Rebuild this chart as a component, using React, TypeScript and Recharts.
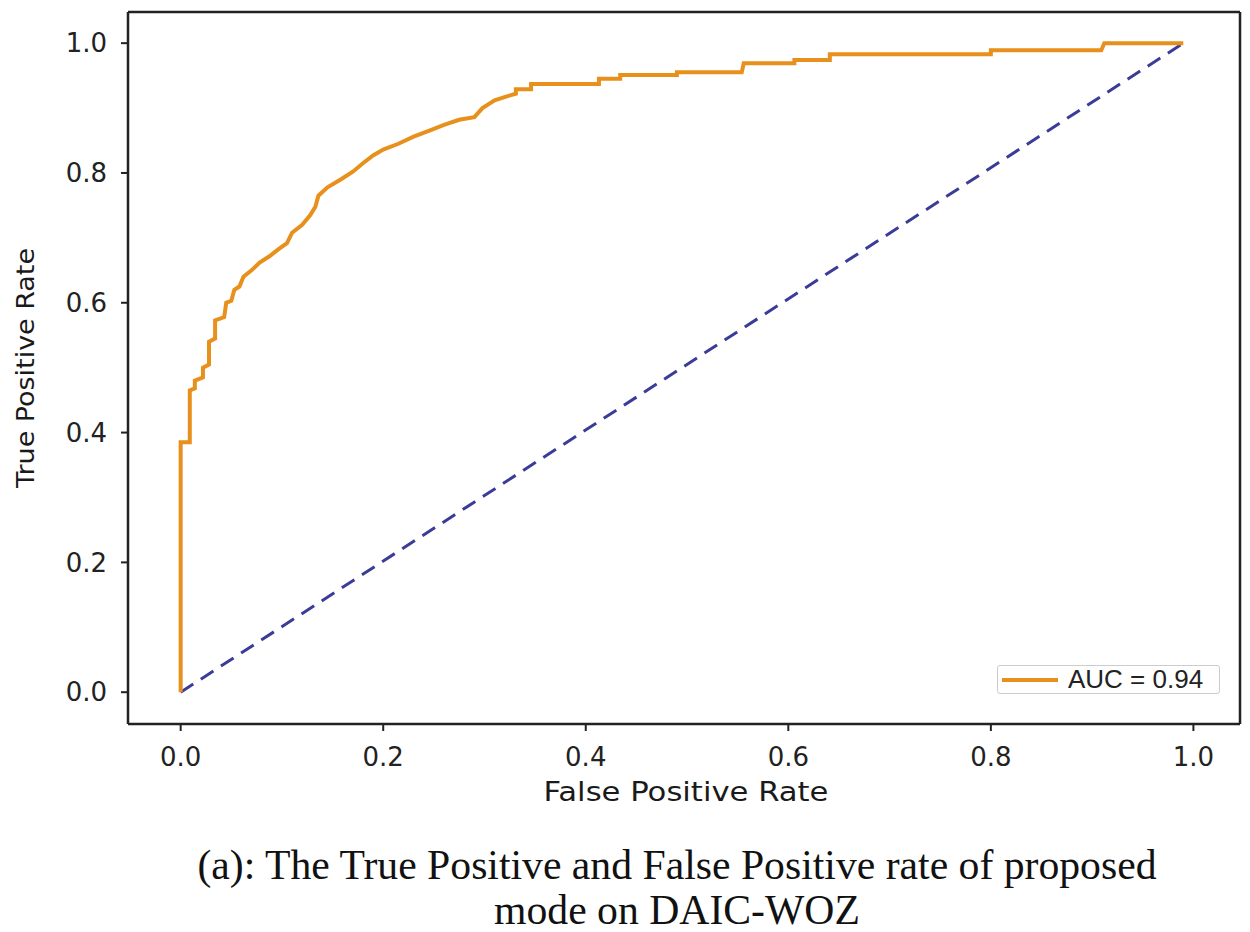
import { LineChart, Line, XAxis, YAxis, ReferenceLine } from 'recharts';

// ROC curve vertices (false positive rate, true positive rate)
const fpr = [
  0, 0, 0.009, 0.009, 0.014, 0.014, 0.022, 0.022, 0.028, 0.028, 0.034, 0.034, 0.043, 0.045,
  0.05, 0.053, 0.058, 0.062, 0.07, 0.078, 0.088, 0.097, 0.105, 0.11, 0.12, 0.128, 0.133, 0.136,
  0.145, 0.158, 0.17, 0.18, 0.19, 0.2, 0.215, 0.23, 0.245, 0.26, 0.275, 0.29, 0.298, 0.31, 0.322,
  0.331, 0.331, 0.346, 0.346, 0.413, 0.413, 0.434, 0.434, 0.49, 0.49, 0.554, 0.556, 0.606, 0.606,
  0.641, 0.641, 0.8, 0.8, 0.909, 0.912, 0.99,
];
const tpr = [
  0, 0.385, 0.385, 0.465, 0.468, 0.48, 0.485, 0.5, 0.505, 0.54, 0.545, 0.573, 0.578, 0.6,
  0.603, 0.62, 0.625, 0.64, 0.65, 0.662, 0.672, 0.683, 0.692, 0.708, 0.72, 0.735, 0.748, 0.765,
  0.778, 0.79, 0.802, 0.815, 0.827, 0.836, 0.845, 0.856, 0.865, 0.874, 0.882, 0.886, 0.9, 0.912, 0.918,
  0.922, 0.929, 0.929, 0.937, 0.937, 0.945, 0.945, 0.951, 0.951, 0.955, 0.955, 0.969, 0.969, 0.974,
  0.974, 0.983, 0.983, 0.989, 0.989, 1.0, 1.0,
];
const chanceX = [0, 0.99];
const chanceY = [0, 1.0];
const ticks = [0, 0.2, 0.4, 0.6, 0.8, 1.0];
const aucLabel = 'AUC = 0.94';

const rocData = fpr.map((x, i) => ({ x, y: tpr[i] }));
const chanceData = chanceX.map((x, i) => ({ x, y: chanceY[i] }));

const xDomain = [-0.052, 1.046];
const yDomain = [-0.049, 1.048];
const frame = '#222';
const tickFont = { fontFamily: 'DejaVu Sans', fontSize: 26, fill: '#222' };

function XLabel({ viewBox }: any) {
  return (
    <text
      x={viewBox.x + viewBox.width / 2 + 2}
      y={viewBox.y + 77}
      textAnchor="middle"
      textLength={285}
      lengthAdjust="spacingAndGlyphs"
      style={{ fontFamily: 'DejaVu Sans', fontSize: 26, fill: '#1a1a1a' }}
    >
      False Positive Rate
    </text>
  );
}

function YLabel({ viewBox }: any) {
  const cx = 17;
  const cy = viewBox.y + viewBox.height / 2;
  return (
    <text
      x={cx}
      y={cy}
      transform={`rotate(-90, ${cx}, ${cy})`}
      textAnchor="middle"
      dominantBaseline="central"
      textLength={240}
      lengthAdjust="spacingAndGlyphs"
      style={{ fontFamily: 'DejaVu Sans', fontSize: 25, fill: '#1a1a1a' }}
    >
      True Positive Rate
    </text>
  );
}

export default function App() {
  return (
    <div style={{ width: 1242 }}>
      <div style={{ position: 'relative', width: 1242, height: 804 }}>
        <LineChart width={1242} height={804} margin={{ top: 4, right: 10, left: 0, bottom: 0 }}>
          <XAxis
            dataKey="x"
            type="number"
            domain={xDomain}
            ticks={ticks}
            tickFormatter={(v: number) => v.toFixed(1)}
            allowDataOverflow
            height={88}
            tickSize={7}
            tickMargin={17}
            tick={tickFont}
            axisLine={{ stroke: frame, strokeWidth: 2.5 }}
            tickLine={{ stroke: frame, strokeWidth: 2 }}
            label={<XLabel />}
          />
          <YAxis
            dataKey="y"
            type="number"
            domain={yDomain}
            ticks={ticks}
            tickFormatter={(v: number) => v.toFixed(1)}
            allowDataOverflow
            width={120}
            tickSize={7}
            tickMargin={14}
            tick={tickFont}
            axisLine={{ stroke: frame, strokeWidth: 2.5 }}
            tickLine={{ stroke: frame, strokeWidth: 2 }}
            label={<YLabel />}
          />
          <ReferenceLine y={yDomain[1]} stroke={frame} strokeWidth={2.5} ifOverflow="visible" />
          <ReferenceLine x={xDomain[1]} stroke={frame} strokeWidth={2.5} ifOverflow="visible" />
          <Line
            data={chanceData}
            dataKey="y"
            type="linear"
            stroke="#3b3b98"
            strokeWidth={3}
            strokeDasharray="15 9"
            dot={false}
            legendType="none"
            isAnimationActive={false}
          />
          <Line
            data={rocData}
            dataKey="y"
            name={aucLabel}
            type="linear"
            stroke="#e8901c"
            strokeWidth={4}
            strokeLinejoin="miter"
            dot={false}
            isAnimationActive={false}
          />
        </LineChart>
        <div
          style={{
            position: 'absolute',
            left: 989,
            top: 657,
            display: 'flex',
            alignItems: 'center',
            border: '1.5px solid #ccc',
            borderRadius: 3,
            background: '#fff',
            width: 223,
            height: 29,
            boxSizing: 'border-box',
            padding: '0 4px',
          }}
        >
          <svg width={56} height={6} style={{ marginRight: 10 }}>
            <line x1={0} y1={3} x2={56} y2={3} stroke="#e8901c" strokeWidth={4} />
          </svg>
          <span style={{ fontFamily: 'Liberation Sans', fontSize: 26, color: '#222' }}>{aucLabel}</span>
        </div>
      </div>
      <div
        style={{
          fontFamily: 'Liberation Serif',
          fontSize: 41.7,
          lineHeight: '45px',
          textAlign: 'center',
          color: '#111',
          marginTop: 31,
          paddingLeft: 96,
        }}
      >
        (a): The True Positive and False Positive rate of proposed
        <br />
        mode on DAIC-WOZ
      </div>
    </div>
  );
}
